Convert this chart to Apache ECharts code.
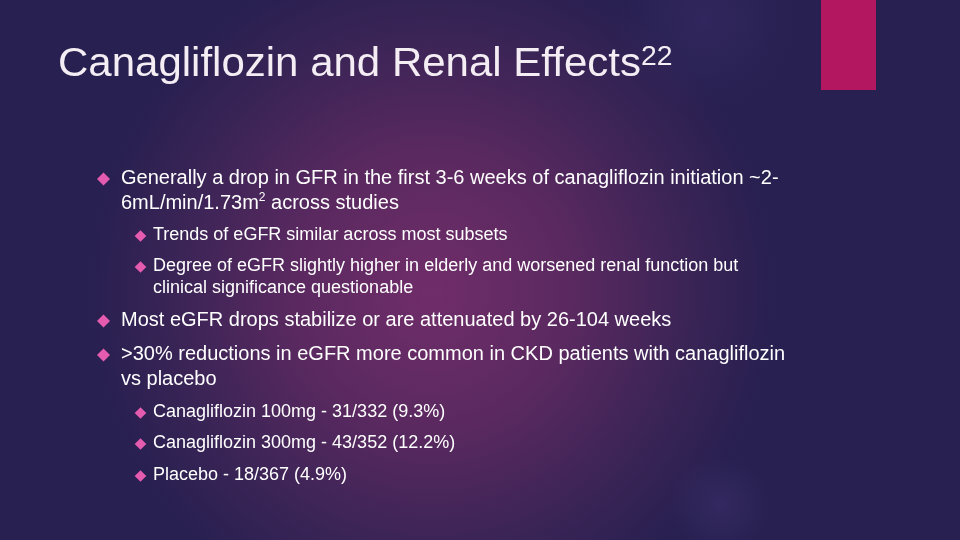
<!DOCTYPE html>
<html><head><meta charset="utf-8">
<script src="https://cdn.jsdelivr.net/npm/echarts@6/dist/echarts.min.js"></script>
<style>html,body{margin:0;padding:0;background:#2a2150}#c{width:960px;height:540px}</style>
</head><body><div id="c"></div>
<script>
const titleText = 'Canagliflozin and Renal Effects';
const titleRef = '22';
const bulletLevels = [1, 2, 2, 1, 1, 2, 2, 2];
const bulletLines = [
  ['Generally a drop in GFR in the first 3-6 weeks of canagliflozin initiation ~2-', '6mL/min/1.73m{sup|2} across studies'],
  ['Trends of eGFR similar across most subsets'],
  ['Degree of eGFR slightly higher in elderly and worsened renal function but', 'clinical significance questionable'],
  ['Most eGFR drops stabilize or are attenuated by 26-104 weeks'],
  ['>30% reductions in eGFR more common in CKD patients with canagliflozin', 'vs placebo'],
  ['Canagliflozin 100mg - 31/332 (9.3%)'],
  ['Canagliflozin 300mg - 43/352 (12.2%)'],
  ['Placebo - 18/367 (4.9%)']
];
const bulletTops = [178, 235, 266, 320, 354, 412, 443, 475];

const chart = echarts.init(document.getElementById('c'), null, {renderer: 'canvas'});
const FONT = '"Liberation Sans", Arial, sans-serif';
const measure = (txt, font) => {
  const ctx = document.createElement('canvas').getContext('2d');
  ctx.font = font; return ctx.measureText(txt).width;
};
const els = [];
els.push({type: 'rect', shape: {x: 0, y: 0, width: 960, height: 540}, z: 0, style: {
  fill: new echarts.graphic.RadialGradient(0.45, 0.54, 0.64, [
    {offset: 0, color: '#702d69'}, {offset: 0.4, color: '#5a2960'}, {offset: 0.75, color: '#3a2456'}, {offset: 1, color: '#272050'}
  ])}});
els.push({type: 'circle', z: 1, shape: {cx: 720, cy: 505, r: 50}, style: {
  fill: new echarts.graphic.RadialGradient(0.5, 0.5, 0.5, [
    {offset: 0, color: 'rgba(110,80,170,0.18)'}, {offset: 1, color: 'rgba(110,80,170,0)'}])}});
els.push({type: 'circle', z: 1, shape: {cx: 705, cy: 20, r: 90}, style: {
  fill: new echarts.graphic.RadialGradient(0.5, 0.5, 0.5, [
    {offset: 0, color: 'rgba(100,70,160,0.16)'}, {offset: 1, color: 'rgba(100,70,160,0)'}])}});
els.push({type: 'rect', z: 2, shape: {x: 821, y: 0, width: 55, height: 90}, style: {fill: '#b3175f'}});

const titleFont = '40px ' + FONT;
const titleScale = 1.05;
const tw = measure(titleText, titleFont) * titleScale;
els.push({type: 'text', z: 3, x: 58, y: 65, scaleX: titleScale, style: {
  x: 0, y: 0, text: titleText, fill: '#f4eef4', font: titleFont, textVerticalAlign: 'middle'}});
els.push({type: 'text', z: 3, x: 58 + tw, y: 58, scaleX: titleScale, style: {
  x: 0, y: 0, text: titleRef, fill: '#f4eef4', font: '27px ' + FONT, textVerticalAlign: 'middle'}});

bulletLines.forEach((lines, i) => {
  const lvl = bulletLevels[i];
  const bx = lvl === 1 ? 103.5 : 140.5;
  const tx = lvl === 1 ? 121 : 153;
  const fs = lvl === 1 ? 20 : 18;
  const lh = lvl === 1 ? 25 : 22;
  const ds = lvl === 1 ? 6.5 : 5.8;
  const y0 = bulletTops[i];
  els.push({type: 'polygon', z: 3, shape: {points: [[bx, y0 + 1 - ds], [bx + ds, y0 + 1], [bx, y0 + 1 + ds], [bx - ds, y0 + 1]]}, style: {fill: '#e45bb0'}});
  lines.forEach((ln, j) => {
    els.push({type: 'text', z: 3, style: {
      x: tx, y: y0 + j * lh, text: ln, fill: '#ffffff', font: fs + 'px ' + FONT,
      textVerticalAlign: 'middle',
      rich: {sup: {fontSize: 12, fontFamily: FONT, fill: '#ffffff', verticalAlign: 'bottom', padding: [0, 0, 11, 0]}}
    }});
  });
});
chart.setOption({backgroundColor: '#2a2150', graphic: {elements: els}});
</script></body></html>
